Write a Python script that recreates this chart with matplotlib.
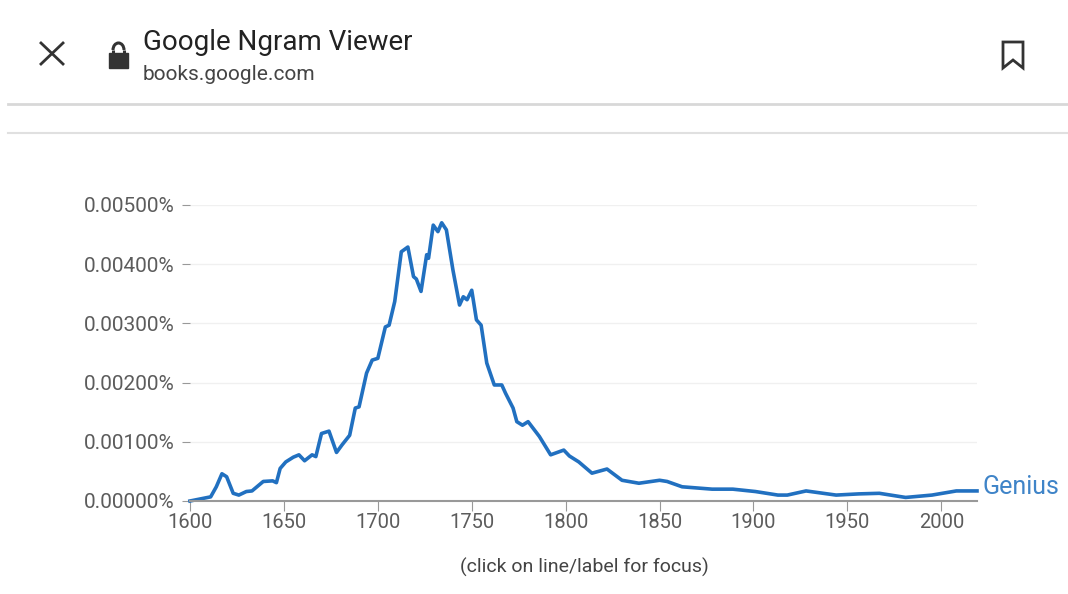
import numpy as np
import matplotlib.pyplot as plt
from matplotlib.patches import Rectangle, Arc, Polygon
from matplotlib.ticker import FuncFormatter

plt.rcParams['font.family'] = ['Roboto', 'DejaVu Sans']

# ***** DATA (frequency in percent) *****
years = [1600, 1611, 1614, 1617, 1619.5, 1623, 1626, 1630, 1633, 1639, 1644, 1646, 1648,
         1651, 1655, 1658, 1661, 1665, 1667, 1670, 1674, 1678, 1681, 1685, 1688, 1690,
         1694, 1697, 1700, 1704, 1706, 1709, 1712.5, 1716, 1719, 1720.5, 1723, 1726,
         1727, 1729.5, 1732, 1734, 1736.5, 1740, 1743.5, 1745.5, 1747.5, 1750, 1752.5,
         1755, 1758, 1762, 1766, 1768, 1772, 1774, 1777, 1780, 1786, 1792, 1799, 1802,
         1807, 1814, 1822, 1830, 1839, 1850, 1854, 1862, 1878, 1889, 1901, 1913, 1918,
         1928, 1944, 1956, 1967, 1981, 1995, 2008, 2019]
values = [0.00000, 0.00007, 0.00024, 0.00046, 0.00041, 0.00013, 0.00010, 0.00016, 0.00017,
          0.00033, 0.00034, 0.00031, 0.00055, 0.00066, 0.00074, 0.00078, 0.00068, 0.00078,
          0.00075, 0.00114, 0.00118, 0.00082, 0.00095, 0.00111, 0.00157, 0.00159, 0.00216,
          0.00238, 0.00241, 0.00294, 0.00297, 0.00337, 0.00421, 0.00429, 0.00379, 0.00375,
          0.00354, 0.00416, 0.00410, 0.00466, 0.00455, 0.00470, 0.00458, 0.00390, 0.00331,
          0.00345, 0.00340, 0.00356, 0.00306, 0.00297, 0.00233, 0.00196, 0.00196, 0.00182,
          0.00157, 0.00134, 0.00128, 0.00134, 0.00109, 0.00078, 0.00086, 0.00076, 0.00066,
          0.00047, 0.00054, 0.00035, 0.00030, 0.00035, 0.00033, 0.00024, 0.00020, 0.00020,
          0.00016, 0.00010, 0.00010, 0.00017, 0.00010, 0.00012, 0.00013, 0.00006, 0.00010,
          0.00017, 0.00017]
label = 'Genius'
xticks = [1600, 1650, 1700, 1750, 1800, 1850, 1900, 1950, 2000]
yticks = [0.0, 0.001, 0.002, 0.003, 0.004, 0.005]

LINE = '#2170c0'
GREY = '#5c5c5c'

fig = plt.figure(figsize=(10.68, 5.94), dpi=100)
fig.patch.set_facecolor('white')

# ***** HEADER (browser bar) *****
hdr = fig.add_axes([0, 0, 1, 1])
hdr.set_xlim(0, 1068)
hdr.set_ylim(594, 0)
hdr.axis('off')
hdr.plot([41, 63], [43, 64], color='#333333', lw=2)
hdr.plot([41, 63], [64, 43], color='#333333', lw=2)
# padlock
hdr.add_patch(Rectangle((109, 53), 19, 15, color='#333333'))
hdr.add_patch(Arc((118.5, 50), 11, 14, theta1=180, theta2=360, color='#333333', lw=2.2))
hdr.plot([113, 113], [50, 54], color='#333333', lw=2.2, solid_capstyle='butt')
hdr.plot([124, 124], [50, 54], color='#333333', lw=2.2, solid_capstyle='butt')
# bookmark
hdr.add_patch(Polygon([[1003, 42], [1023, 42], [1023, 68], [1013, 60], [1003, 68]],
                      closed=True, fill=False, ec='#333333', lw=2, joinstyle='miter'))
hdr.text(143, 42, 'Google Ngram Viewer', fontsize=20, color='#222222', va='center')
hdr.text(143, 75, 'books.google.com', fontsize=15, color='#444444', va='center')
hdr.plot([8, 1068], [104, 104], color='#d8d8d8', lw=2)
hdr.plot([8, 1068], [133, 133], color='#e0e0e0', lw=1.5)
hdr.text(584, 567, '(click on line/label for focus)', fontsize=14, color='#444444',
         ha='center', va='center')

# ***** CHART *****
ax = fig.add_axes([190 / 1068, 1 - 501 / 594, 787 / 1068, 296 / 594])
ax.plot(years, values, color=LINE, lw=2.6, solid_joinstyle='round', clip_on=False)
ax.set_xlim(1600, 2019)
ax.set_ylim(0, 0.005)
ax.set_xticks(xticks)
ax.set_yticks(yticks)
ax.yaxis.set_major_formatter(FuncFormatter(lambda v, p: f'{v:.5f}%'))
ax.grid(axis='y', color='#f0f0f0', lw=1)
ax.set_axisbelow(True)
for s in ['top', 'right', 'left']:
    ax.spines[s].set_visible(False)
ax.spines['bottom'].set_color('#999999')
ax.spines['bottom'].set_linewidth(1.5)
ax.tick_params(axis='y', length=6, color='#999999', labelsize=15, labelcolor=GREY, pad=5)
ax.tick_params(axis='x', length=7, color='#999999', labelsize=14.5, labelcolor=GREY, pad=2)
ax.text(2022, values[-1] + 0.00006, label, fontsize=18, color='#3f84c8', va='center',
        ha='left', clip_on=False)

plt.savefig('out.png', dpi=100, facecolor='white')
